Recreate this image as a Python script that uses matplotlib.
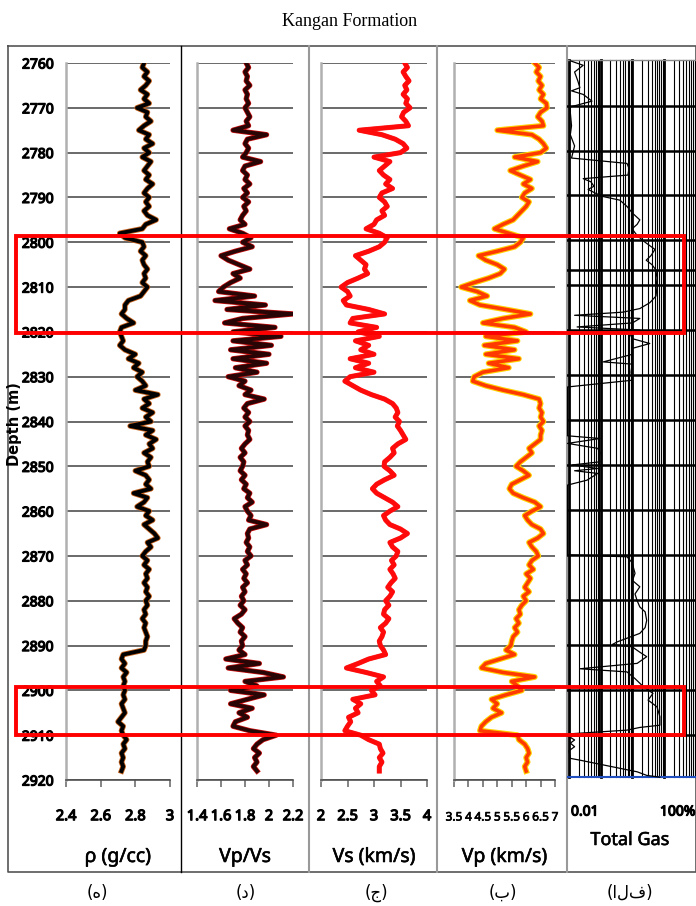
import numpy as np
import matplotlib
matplotlib.use("Agg")
import matplotlib.pyplot as plt
import matplotlib.patheffects as pe
from matplotlib.patches import Rectangle

# depth sampling of the four log curves (m)
depth = np.arange(2760, 2919)

rho = [2.85, 2.84, 2.87, 2.85, 2.88, 2.86, 2.83, 2.87, 2.85, 2.88,
       2.81, 2.87, 2.86, 2.89, 2.85, 2.82, 2.88, 2.86, 2.90, 2.85,
       2.88, 2.84, 2.89, 2.87, 2.85, 2.88, 2.86, 2.90, 2.87, 2.85,
       2.88, 2.86, 2.88, 2.85, 2.87, 2.92, 2.86, 2.84, 2.71, 2.74,
       2.84, 2.85, 2.83, 2.86, 2.84, 2.85, 2.87, 2.85, 2.86, 2.84,
       2.87, 2.85, 2.83, 2.76, 2.74, 2.74, 2.72, 2.75, 2.79, 2.72,
       2.71, 2.72, 2.73, 2.71, 2.74, 2.80, 2.76, 2.82, 2.79, 2.84,
       2.81, 2.84, 2.86, 2.80, 2.93, 2.85, 2.88, 2.84, 2.90, 2.86,
       2.89, 2.77, 2.90, 2.86, 2.92, 2.88, 2.90, 2.85, 2.89, 2.87,
       2.88, 2.80, 2.86, 2.88, 2.86, 2.89, 2.79, 2.87, 2.85, 2.81,
       2.88, 2.86, 2.90, 2.85, 2.88, 2.91, 2.93, 2.87, 2.89, 2.86,
       2.84, 2.87, 2.85, 2.88, 2.86, 2.87, 2.85, 2.87, 2.86, 2.88,
       2.86, 2.87, 2.85, 2.86, 2.84, 2.86, 2.85, 2.86, 2.87, 2.86,
       2.86, 2.85, 2.73, 2.72, 2.74, 2.72, 2.75, 2.73, 2.74, 2.73,
       2.74, 2.73, 2.74, 2.72, 2.73, 2.74, 2.72, 2.70, 2.73, 2.72,
       2.73, 2.75, 2.73, 2.74, 2.72, 2.73, 2.72, 2.73, 2.72]

vpvs = [1.81, 1.83, 1.80, 1.82, 1.81, 1.84, 1.80, 1.82, 1.81, 1.83,
        1.80, 1.82, 1.84, 1.81, 1.83, 1.70, 1.98, 1.82, 1.80, 1.83,
        1.81, 1.78, 1.93, 1.80, 1.78, 1.82, 1.80, 1.84, 1.79, 1.82,
        1.78, 1.83, 1.79, 1.81, 1.78, 1.76, 1.80, 1.67, 1.78, 1.85,
        1.78, 1.86, 1.72, 1.60, 1.66, 1.75, 1.84, 1.70, 1.76, 1.68,
        1.62, 1.58, 1.88, 1.55, 1.97, 1.65, 2.20, 1.78, 1.63, 2.05,
        1.70, 2.10, 1.70, 2.02, 1.68, 2.00, 1.70, 1.98, 1.72, 1.90,
        1.66, 1.80, 1.75, 1.85, 1.80, 1.96, 1.82, 1.79, 1.83, 1.80,
        1.84, 1.80, 1.83, 1.82, 1.84, 1.80, 1.77, 1.80, 1.76, 1.79,
        1.78, 1.76, 1.80, 1.77, 1.81, 1.79, 1.84, 1.82, 1.86, 1.80,
        1.82, 1.85, 1.83, 1.98, 1.84, 1.82, 1.83, 1.81, 1.84, 1.82,
        1.85, 1.80, 1.82, 1.78, 1.81, 1.79, 1.82, 1.78, 1.80, 1.77,
        1.79, 1.76, 1.80, 1.77, 1.71, 1.74, 1.78, 1.76, 1.80, 1.77,
        1.78, 1.75, 1.80, 1.64, 1.92, 1.66, 1.95, 2.12, 1.80, 1.90,
        1.68, 1.96, 1.82, 1.68, 1.86, 1.75, 1.82, 1.72, 1.70, 1.84,
        2.06, 1.95, 1.90, 1.87, 1.92, 1.88, 1.90, 1.87, 1.90]

vs = [3.58, 3.63, 3.55, 3.60, 3.66, 3.58, 3.62, 3.55, 3.63, 3.60,
      3.68, 3.56, 3.52, 3.60, 3.65, 2.72, 3.15, 3.40, 3.55, 3.62,
      3.50, 3.00, 3.30, 3.20, 3.10, 3.18, 3.30, 3.22, 3.35, 3.15,
      3.10, 3.20, 3.25, 3.15, 3.20, 3.05, 3.00, 2.85, 3.10, 3.25,
      3.20, 3.10, 2.90, 2.65, 2.75, 2.85, 2.82, 2.88, 2.70, 2.50,
      2.38, 2.50, 2.55, 2.42, 2.48, 2.90, 3.20, 2.60, 2.55, 3.05,
      2.70, 3.10, 2.65, 2.90, 2.75, 3.00, 2.55, 2.90, 2.65, 3.00,
      2.55, 2.45, 2.60, 2.75, 2.95, 3.20, 3.35, 3.42, 3.45, 3.40,
      3.48, 3.44, 3.50, 3.55, 3.60, 3.45, 3.35, 3.38, 3.30, 3.20,
      3.19, 3.30, 3.38, 3.20, 3.05, 2.97, 3.05, 3.20, 3.35, 3.45,
      3.30, 3.18, 3.22, 3.30, 3.50, 3.63, 3.50, 3.30, 3.35, 3.45,
      3.42, 3.33, 3.38, 3.30, 3.36, 3.40, 3.32, 3.26, 3.35, 3.30,
      3.22, 3.28, 3.20, 3.18, 3.28, 3.22, 3.12, 3.18, 3.15, 3.10,
      3.12, 3.18, 3.22, 2.90, 2.70, 2.48, 2.85, 3.18, 3.05, 3.12,
      2.95, 3.02, 2.60, 2.75, 2.65, 2.70, 2.52, 2.56, 2.50, 2.45,
      2.75, 2.90, 3.10, 3.12, 3.17, 3.10, 3.15, 3.10, 3.10]

vp = [6.30, 6.45, 6.35, 6.50, 6.42, 6.55, 6.45, 6.60, 6.50, 6.70,
      6.72, 6.50, 6.40, 6.55, 6.60, 5.00, 6.20, 6.45, 6.60, 6.70,
      6.50, 5.60, 6.40, 5.90, 5.45, 5.80, 6.15, 5.90, 6.20, 5.95,
      5.85, 6.10, 6.00, 5.85, 5.70, 5.55, 5.20, 4.90, 5.40, 5.90,
      5.80, 5.60, 5.00, 4.35, 4.60, 5.00, 5.25, 5.10, 4.70, 4.20,
      3.75, 4.30, 4.65, 4.05, 4.40, 5.30, 6.15, 5.20, 4.50, 5.60,
      6.00, 4.60, 5.70, 4.55, 5.60, 4.60, 5.75, 4.70, 5.40, 4.50,
      4.20, 4.15, 4.60, 5.20, 5.90, 6.45, 6.50, 6.45, 6.55, 6.50,
      6.60, 6.45, 6.55, 6.50, 6.50, 6.30, 6.10, 6.20, 6.00, 5.80,
      5.65, 5.90, 6.10, 5.80, 5.50, 5.42, 5.55, 5.90, 6.30, 6.50,
      6.20, 5.95, 6.05, 6.20, 6.50, 6.60, 6.40, 6.10, 6.20, 6.35,
      6.42, 6.20, 6.10, 6.25, 6.00, 6.15, 6.05, 5.95, 6.10, 5.90,
      6.00, 5.85, 5.75, 5.80, 5.65, 5.75, 5.60, 5.70, 5.55, 5.50,
      5.47, 5.30, 5.60, 5.10, 4.60, 4.45, 5.20, 6.30, 5.50, 5.70,
      5.85, 5.30, 4.80, 5.00, 4.85, 5.15, 4.80, 4.60, 4.45, 4.40,
      5.70, 5.75, 5.95, 6.05, 6.10, 6.00, 6.05, 5.95, 6.00]

# total gas (%), irregular depth sampling
gas_depth = [2759.5, 2760.5, 2762, 2764, 2765.5, 2766.2, 2767, 2768.5, 2769.8, 2771,
             2774, 2776, 2778.5, 2781.2, 2782.4, 2783.5, 2785, 2785.8, 2786.5, 2787.5,
             2788.2, 2789, 2789.8, 2790.6, 2792, 2793.5, 2795, 2796, 2797, 2798.5,
             2800, 2801.6, 2803, 2804, 2805, 2806.5, 2808, 2810, 2812, 2813.5,
             2814.8, 2815.6, 2816.3, 2817, 2818, 2818.9, 2819.6, 2820.3, 2821.5, 2822.6,
             2823.7, 2825, 2826.7, 2827.2, 2829, 2830.8, 2832.3, 2843.2, 2843.8, 2844.9,
             2846, 2847, 2848.2, 2849, 2849.7, 2850.5, 2851, 2851.6, 2853.1, 2854.2,
             2869.8, 2870.2, 2871.5, 2873.9, 2875.5, 2876.9, 2878.5, 2880, 2881.4, 2882.5,
             2884.4, 2886, 2887.3, 2889.2, 2889.8, 2890.3, 2891.5, 2892.5, 2894, 2895.2,
             2895.9, 2897.4, 2899.2, 2900.7, 2902.2, 2903.7, 2905.9, 2907.8, 2908.3, 2908.9,
             2909.7, 2910.5, 2911.1, 2911.8, 2912.6, 2913.5, 2915.2, 2915.6, 2917.1, 2918.2,
             2919, 2919.4]
gas_value = [0.011, 0.028, 0.015, 0.019, 0.022, 0.012, 0.028, 0.053, 0.011, 0.011,
             0.012, 0.011, 0.015, 0.012, 0.67, 0.78, 0.72, 0.028, 0.049, 0.061,
             0.04, 0.066, 0.12, 0.4, 0.67, 1.0, 1.7, 1.4, 0.97, 1.4,
             2.5, 5.1, 3.8, 2.7, 4.1, 5.9, 5.5, 5.9, 5.5, 3.5,
             1.7, 0.5, 0.015, 1.7, 1.0, 0.018, 1.7, 0.83, 0.97, 3.5,
             0.97, 1.0, 0.12, 0.97, 0.9, 0.97, 0.009, 0.009, 0.095, 0.009,
             0.08, 0.095, 0.085, 0.095, 0.013, 0.08, 0.015, 0.08, 0.037, 0.009,
             0.009, 0.67, 0.97, 1.2, 1.0, 1.7, 1.2, 1.4, 1.7, 2.5,
             2.8, 2.5, 1.7, 0.33, 0.23, 0.97, 1.7, 2.8, 1.4, 0.022,
             0.67, 1.2, 2.2, 4.4, 3.1, 5.9, 7.3, 7.3, 1.7, 0.67,
             0.012, 0.011, 0.015, 0.011, 0.015, 0.01, 0.011, 0.022, 0.24, 1.4,
             2.8, 7.3]

zones = [(2798.6, 2820.3), (2899.3, 2910.0)]

track_labels = ["\u03c1 (g/cc)", "Vp/Vs", "Vs (km/s)", "Vp (km/s)"]
panel_letters = ["(\u0647)", "(\u062f)", "(\u062c)", "(\u0628)", "(\u0627\u0644\u0641)"]

W, H = 696, 906
narrow = ["Noto Sans", "DejaVu Sans"]
cond = "condensed"
# fake bold for the condensed face (no bold condensed installed)
bold_fx = [pe.withStroke(linewidth=0.9, foreground="black")]
thin_fx = [pe.withStroke(linewidth=0.5, foreground="black")]
semi_fx = [pe.withStroke(linewidth=0.4, foreground="black")]

fig = plt.figure(figsize=(W / 100, H / 100), dpi=100)

# background layer in pixel coords
bg = fig.add_axes([0, 0, 1, 1], zorder=0)
bg.set_xlim(0, W)
bg.set_ylim(H, 0)
bg.axis("off")


def px_axes(x0, y0, x1, y1, z=2):
    return fig.add_axes([x0 / W, 1 - y1 / H, (x1 - x0) / W, (y1 - y0) / H], zorder=z)


def depth_to_px(d):
    return 63 + (d - 2760) * 4.48


# frame and panel dividers
bg.plot([8, 696, 696, 8, 8], [46, 46, 872, 872, 46], color="#555555", lw=1.2)
bg.plot([181, 181], [46, 872], color="black", lw=1.0)
for xd in [309, 437, 567]:
    bg.plot([xd, xd], [46, 872], color="#999999", lw=1.5)

tracks = [
    (66, 170, rho, (2.4, 3.0), [2.4, 2.6, 2.8, 3.0], ["2.4", "2.6", "2.8", "3"]),
    (197, 293, vpvs, (1.4, 2.2), [1.4, 1.6, 1.8, 2.0, 2.2], ["1.4", "1.6", "1.8", "2", "2.2"]),
    (321, 427, vs, (2.0, 4.0), [2.0, 2.5, 3.0, 3.5, 4.0], ["2", "2.5", "3", "3.5", "4"]),
    (454, 555, vp, (3.5, 7.0), [3.5, 4, 4.5, 5, 5.5, 6, 6.5, 7],
     ["3.5", "4", "4.5", "5", "5.5", "6", "6.5", "7"]),
]
styles = [
    ("black", "#c8641e", 2.8, 4.0),
    ("#2a0505", "#d01010", 2.8, 3.8),
    ("#ff0a0a", "#ff2020", 3.0, 3.6),
    ("#ff3a00", "#ffd000", 2.6, 4.2),
]
tick_sizes = [10.5, 10.5, 10.5, 8.5]

for i, (x0, x1, vals, xlim, ticks, tlabels) in enumerate(tracks):
    ax = px_axes(x0, 63, x1, 780)
    ax.patch.set_alpha(0)
    col, halo, lw, hw = styles[i]
    ax.plot(vals, depth, color=col, lw=lw, solid_joinstyle="round",
            path_effects=[pe.Stroke(linewidth=hw, foreground=halo), pe.Normal()], zorder=3)
    ax.set_xlim(*xlim)
    ax.set_ylim(2920, 2760)
    ax.set_yticks(range(2760, 2921, 10))
    ax.yaxis.grid(True, color="#505050", lw=1.2)
    ax.set_axisbelow(True)
    for s in ["top", "right"]:
        ax.spines[s].set_visible(False)
    ax.spines["left"].set_color("#b0b0b0")
    ax.spines["left"].set_linewidth(1.8)
    ax.spines["bottom"].set_color("#505050")
    ax.spines["bottom"].set_linewidth(1.2)
    ax.set_xticks(ticks)
    ax.set_xticklabels(tlabels, fontfamily=narrow, fontsize=tick_sizes[i],
                       fontstretch=cond, path_effects=thin_fx if i == 3 else bold_fx)
    ax.tick_params(axis="x", direction="out", length=5, width=1.2, color="#707070",
                   pad=17 if i == 3 else 16)
    ax.tick_params(axis="y", length=0, pad=9)
    if i == 0:
        for lab in ax.get_yticklabels():
            lab.set_fontfamily(narrow)
            lab.set_fontsize(10)
            lab.set_fontstretch(cond)
            lab.set_path_effects(bold_fx)
    else:
        ax.set_yticklabels([])
    bg.text((x0 + x1) / 2, 857, track_labels[i], ha="center", va="center",
            fontsize=14, fontfamily=narrow, fontstretch=cond, path_effects=semi_fx)

# total gas track
gx = px_axes(567, 55, 696, 785)
gx.set_xscale("log")
gx.set_xlim(0.00865, 100)
gx.set_ylim(2758.2 + (785 - 55) / 4.48, 2758.2)
gx.axis("off")
g_top, g_bot = 2759.3, 2919.4
for dec in [0.01, 0.1, 1, 10]:
    for m in range(1, 10):
        v = dec * m
        gx.plot([v, v], [g_top, g_bot], color="black", lw=2.0 if m == 1 else 0.8, zorder=1)
gx.plot([0.00865, 100], [g_top, g_top], color="#888888", lw=1.0)
for d in np.arange(2769.5, 2911, 10.03):
    gx.plot([0.00865, 100], [d, d], color="black", lw=1.8, zorder=2)
gx.plot([0.00865, 100], [2806.2, 2806.2], color="black", lw=1.8, zorder=2)
gx.plot([0.00865, 100], [g_bot, g_bot], color="#2050c0", lw=1.5, zorder=2)
gx.plot(gas_value, gas_depth, color="black", lw=0.9, zorder=3)

bg.text(571, 812, "0.01", ha="left", va="center", fontsize=10,
        fontfamily=narrow, fontstretch=cond, path_effects=bold_fx)
bg.text(695, 812, "100%", ha="right", va="center", fontsize=10,
        fontfamily=narrow, fontstretch=cond, path_effects=bold_fx)
bg.text(630, 840, "Total Gas", ha="center", va="center", fontsize=13,
        fontfamily=narrow, fontstretch=cond, path_effects=semi_fx)

# titles and labels
bg.text(350, 22, "Kangan Formation", ha="center", va="center", fontsize=13,
        fontfamily="Liberation Serif")
bg.text(15, 424, "Depth (m)", ha="center", va="center", rotation=90,
        fontsize=10.5, fontweight="bold", fontfamily="DejaVu Sans")
for xc, t in zip([97, 246, 376, 503, 630], panel_letters):
    bg.text(xc, 893, t, ha="center", va="center", fontsize=12, fontfamily="DejaVu Sans")

# highlighted zones
top = fig.add_axes([0, 0, 1, 1], zorder=10)
top.set_xlim(0, W)
top.set_ylim(H, 0)
top.axis("off")
for d0, d1 in zones:
    y0, y1 = depth_to_px(d0), depth_to_px(d1)
    top.add_patch(Rectangle((16, y0), 668, y1 - y0, fill=False,
                            edgecolor="#ff0000", lw=2.8))

fig.savefig("out.png", dpi=100)
